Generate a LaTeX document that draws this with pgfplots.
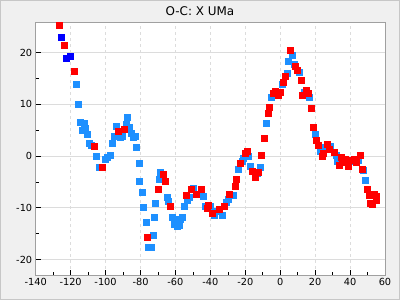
\documentclass[border=0pt]{standalone}
\usepackage{pgfplots}
\pgfplotsset{compat=1.18}
\usepackage{fontspec}
\setmainfont{DejaVu Sans}
\definecolor{bg}{HTML}{F0F0F0}
\definecolor{frm}{HTML}{A0A0A0}
\definecolor{grd}{HTML}{DCDCDC}
\definecolor{lblue}{HTML}{1E90FF}
\definecolor{dblue}{HTML}{0000FF}
\definecolor{rred}{HTML}{FF0000}
\begin{document}
\begin{tikzpicture}
\fill[bg] (0bp,0bp) rectangle (400bp,300bp);
\draw[black!22, line width=1bp] (0.5bp,0.5bp) rectangle (399.5bp,299.5bp);
\node[anchor=base, font=\fontsize{12}{14}\selectfont] at (200bp,284.5bp) {O-C: X UMa};
\begin{axis}[at={(35.7bp,25bp)}, anchor=south west, scale only axis,
  width=349.3bp, height=253bp,
  xmin=-140, xmax=60, ymin=-23, ymax=25.9,
  axis background/.style={fill=white},
  axis line style={frm, line width=0.8bp},
  xtick={-140,-120,...,60},
  xticklabels={-140,-120,-100,-80,-60,-40,-20,0,20,40,60},
  ytick={-20,-10,0,10,20},
  yticklabels={-20,-10,0,10,20},
  minor x tick num=1, minor y tick num=1,
  tick align=inside, tick pos=left,
  major tick length=5bp, minor tick length=3bp,
  tick style={black, line width=0.6bp},
  ticklabel style={font=\fontsize{9.8}{11}\selectfont},
  xmajorgrids, ymajorgrids,
  x grid style={grd, line width=0.8bp, dash pattern=on 3bp off 3bp},
  y grid style={grd, line width=0.8bp},
]
\addplot[only marks, mark=square*, mark size=3bp, color=lblue, mark options={fill=lblue, draw=none}] coordinates {
(-116.7,13.93) (-115.5,10.0) (-114.4,6.52) (-112.1,6.32) (-113.2,5.03) (-111.5,5.36)
(-110.3,4.2) (-109.2,2.46) (-108.0,2.07) (-105.2,-0.06) (-100.0,-0.64) (-98.9,-0.25)
(-97.1,0.14) (-96.0,2.46) (-94.8,3.81) (-93.7,5.74) (-91.4,3.62) (-90.2,3.81)
(-87.9,6.13) (-87.4,7.49) (-86.2,5.55) (-85.1,4.39) (-83.9,3.62) (-82.9,3.81)
(-82.2,1.68) (-103.4,-2.19) (-81.0,-1.41) (-69.0,-3.15) (-80.5,-4.89) (-69.5,-4.5)
(-79.3,-7.02) (-71.3,-9.15) (-78.2,-9.92) (-72.4,-11.86) (-77.0,-12.82) (-73.0,-15.3)
(-75.3,-17.66) (-74.1,-17.66) (-64.9,-7.99) (-64.4,-8.76) (-62.1,-11.86) (-60.3,-12.24)
(-56.3,-11.86) (-57.5,-12.24) (-60.9,-13.2) (-59.2,-13.6) (-58.0,-13.4) (-55.2,-9.73)
(-53.4,-8.57) (-52.3,-7.99) (-50.0,-6.25) (-46.6,-7.41) (-44.3,-7.8) (-43.1,-9.73)
(-40.2,-9.73) (-37.9,-11.47) (-36.8,-10.7) (-33.3,-11.47) (-31.0,-8.96) (-29.9,-8.38)
(-27.0,-7.6) (-24.1,-2.57) (-21.8,-1.03) (-21.3,-0.44) (-18.4,-0.06) (-17.2,-1.99)
(-13.2,-3.35) (-11.5,-2.19) (-8.0,6.32) (-5.2,11.35) (-1.7,12.13) (1.1,13.87)
(4.0,16.0) (4.6,18.3) (6.9,19.48) (8.0,17.74) (10.9,16.19) (13.8,12.3)
(16.7,11.35) (20.1,4.2) (23.0,0.91) (25.9,1.68) (28.7,1.88) (32.2,0.14)
(32.8,-1.03) (41.4,-1.03) (44.8,-0.83) (47.7,-2.77) (48.9,-4.7)
};
\addplot[only marks, mark=square*, mark size=3bp, color=rred, mark options={fill=rred, draw=none}] coordinates {
(-126.4,25.28) (-123.6,21.4) (-117.8,16.4) (-106.3,1.88) (-92.5,4.78) (-89.1,5.16)
(-101.7,-2.19) (-70.1,-6.44) (-76.4,-15.7) (-67.2,-3.54) (-66.1,-4.89) (-63.2,-9.73)
(-54.0,-7.6) (-51.1,-6.44) (-48.3,-7.41) (-45.4,-6.44) (-41.4,-9.54) (-42.0,-10.1)
(-39.1,-11.08) (-35.1,-10.3) (-32.2,-9.73) (-29.3,-7.41) (-25.9,-5.86) (-25.3,-4.5)
(-23.0,-1.41) (-20.1,0.52) (-19.0,0.91) (-16.1,-2.96) (-14.4,-4.12) (-12.6,-3.15)
(-10.9,0.14) (-9.2,3.42) (-6.9,8.26) (-6.3,9.42) (-4.0,12.13) (-2.9,12.5)
(-1.1,11.74) (0,12.3) (1.7,14.26) (2.9,15.4) (5.7,20.4) (8.6,17.35)
(9.8,16.58) (12.1,14.6) (12.6,11.74) (14.9,12.7) (16.1,12.13) (17.8,9.23)
(19.0,5.55) (20.7,3.04) (21.8,2.07) (24.1,-0.06) (24.7,0.52) (27.0,2.26)
(28.2,1.3) (31.0,0.72) (33.9,-1.8) (35.1,-0.25) (35.6,-1.22) (37.4,-0.64)
(39.1,-1.99) (40.2,-0.83) (42.5,-0.64) (43.7,-1.22) (46.0,0.14) (47.1,-2.57)
(50.0,-6.44) (51.1,-7.6) (54.0,-7.4) (55.2,-7.8) (55.2,-8.57) (51.7,-9.15)
(52.9,-9.34)
};
\addplot[only marks, mark=square*, mark size=3bp, color=dblue, mark options={fill=dblue, draw=none}] coordinates {
(-125.3,22.96) (-122.6,18.9) (-120.1,19.3)
};
\end{axis}
\end{tikzpicture}
\end{document}
